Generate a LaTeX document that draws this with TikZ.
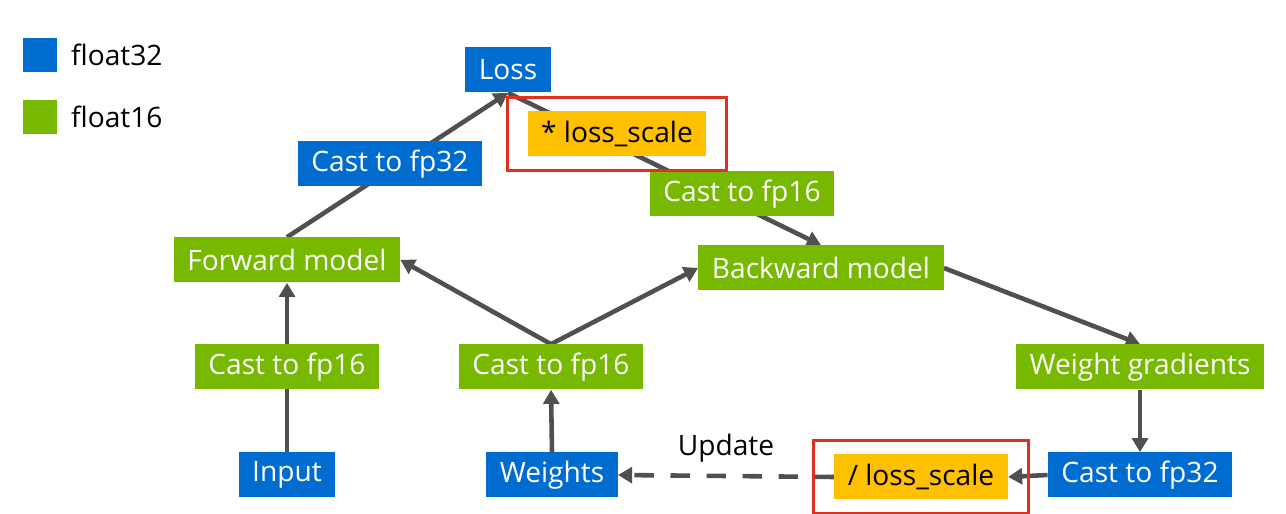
\documentclass[tikz,border=0pt]{standalone}
\usepackage{fontspec}
\setmainfont{Open Sans}
\usetikzlibrary{arrows.meta,backgrounds,fit}
\definecolor{fpblue}{RGB}{0,108,208}
\definecolor{fpgreen}{RGB}{118,185,0}
\definecolor{fpgold}{RGB}{255,192,0}
\definecolor{fpred}{RGB}{224,48,30}
\definecolor{fpgray}{RGB}{80,80,80}
\tikzset{
	box/.style={inner xsep=0.27cm, inner ysep=0pt, minimum height=0.9cm, font=\fontsize{16}{19}\selectfont},
	fp32/.style={box, fill=fpblue, text=white},
	fp16/.style={box, fill=fpgreen, text=white},
	scalebox/.style={box, fill=fpgold, text=black},
	redframe/.style={draw=fpred, line width=1.7pt, inner xsep=0.4cm, inner ysep=0.27cm},
	flow/.style={draw=fpgray, line width=2.6pt, -{Triangle[length=8pt,width=9pt]}},
}

\begin{document}
\begin{tikzpicture}
		%%%%% START %%%%%
		\useasboundingbox (0, 0) rectangle (25.72, 10.28);
		
		\node[fill=fpblue, minimum size=0.68cm, inner sep=0] (key32) at (0.8, 9.18) {};
		\node[fill=fpgreen, minimum size=0.68cm, inner sep=0] (key16) at (0.8, 7.94) {};
		\node[anchor=west, font=\fontsize{16}{19}\selectfont] (lbl32) at (1.3, 9.18) {float32};
		\node[anchor=west, font=\fontsize{16}{19}\selectfont] (lbl16) at (1.3, 7.94) {float16};
		
		\node[fp32] (loss) at (10.16, 8.88) {Loss};
		\node[scalebox] (scale) at (12.34, 7.6) {* loss\_scale};
		\node[fp32] (castA) at (7.8, 7.0) {Cast to fp32};
		\node[fp16] (castB) at (14.84, 6.4) {Cast to fp16};
		
		\node[fp16] (fwd) at (5.74, 5.08) {Forward model};
		\node[fp16] (bwd) at (16.42, 4.92) {Backward model};
		
		\node[fp16] (castIn) at (5.74, 2.94) {Cast to fp16};
		\node[fp16] (castW) at (11.02, 2.94) {Cast to fp16};
		\node[fp16] (grads) at (22.8, 2.94) {Weight gradients};
		
		\node[fp32] (input) at (5.74, 0.78) {Input};
		\node[fp32] (weights) at (11.04, 0.78) {Weights};
		\node[scalebox] (unscale) at (18.42, 0.74) {/ loss\_scale};
		\node[fp32] (castG) at (22.8, 0.78) {Cast to fp32};
		
		\node[redframe, fit=(scale)] (frameA) {};
		\node[redframe, fit=(unscale)] (frameB) {};
		
		\begin{scope}[on background layer]
			\draw[flow] (fwd.north) -- (loss.south);
			\draw[flow] (loss.south) -- (bwd.north);
			\draw[flow] (input.north) -- (fwd.south);
			\draw[flow] (weights.north) -- (castW.south);
			\draw[flow] (castW.north) -- (fwd.east);
			\draw[flow] (castW.north) -- (bwd.west);
			\draw[flow] (bwd.east) -- (grads.north);
			\draw[flow] (grads.south) -- (castG.north);
			\draw[flow] (castG.west) -- (unscale.east);
			\draw[flow, dash pattern=on 11pt off 9.5pt] (unscale.west) -- node[above=3pt, font=\fontsize{16}{19}\selectfont, text=black] (upd) {Update} (weights.east);
		\end{scope}
		%%%%% END %%%%%
	\end{tikzpicture}
\end{document}
